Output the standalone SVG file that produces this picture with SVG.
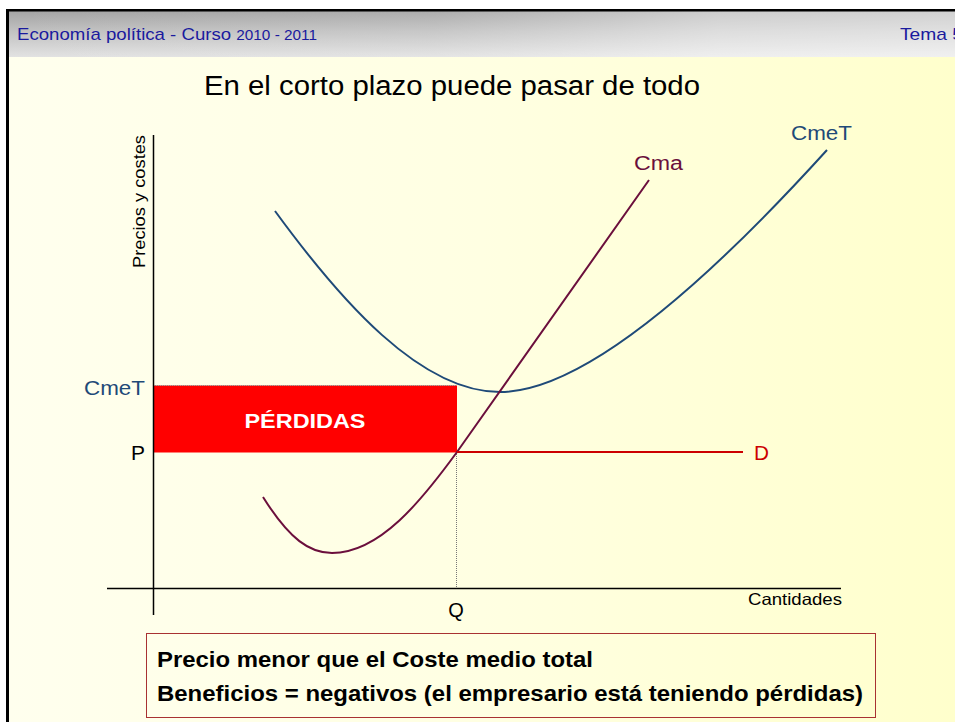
<svg xmlns="http://www.w3.org/2000/svg" width="955" height="722" viewBox="0 0 955 722">
<defs>
<linearGradient id="bg" x1="0" y1="0" x2="1" y2="0">
<stop offset="0" stop-color="#FFFFEE"/>
<stop offset="0.5" stop-color="#FFFFE2"/>
<stop offset="1" stop-color="#FFFFCC"/>
</linearGradient>
<linearGradient id="hdrV" x1="0" y1="0" x2="0" y2="1">
<stop offset="0" stop-color="#A4A4A4"/>
<stop offset="0.45" stop-color="#C2C2C2"/>
<stop offset="1" stop-color="#E2E2E2"/>
</linearGradient>
<linearGradient id="hdrH" x1="0" y1="0" x2="1" y2="0">
<stop offset="0" stop-color="#FFFFFF" stop-opacity="0"/>
<stop offset="0.45" stop-color="#FFFFFF" stop-opacity="0.1"/>
<stop offset="0.75" stop-color="#FFFFFF" stop-opacity="0.45"/>
<stop offset="1" stop-color="#FFFFFF" stop-opacity="0.5"/>
</linearGradient>
<style>
.t{font-family:"Liberation Sans",Arial,sans-serif}
.lbl{font-size:20px}
.blue{fill:#1F4A78}
.curve{fill:none;stroke-width:2}
.bold{font-weight:bold}
</style>
</defs>
<rect x="0" y="0" width="955" height="722" fill="#FFFFFF"/>
<rect x="9" y="11" width="946" height="711" fill="url(#bg)"/>
<g id="header">
<rect x="9" y="11" width="946" height="46" fill="url(#hdrV)"/>
<rect x="9" y="11" width="946" height="46" fill="url(#hdrH)"/>
<text class="t" x="17" y="40" fill="#1A1A9E" font-size="17" textLength="300" lengthAdjust="spacingAndGlyphs">Economía política - Curso <tspan font-size="14">2010 - 2011</tspan></text>
<text class="t" x="900" y="40" fill="#1A1A9E" font-size="17" textLength="63" lengthAdjust="spacingAndGlyphs">Tema 5</text>
</g>
<rect x="6" y="9" width="949" height="2.5" fill="#000"/>
<rect x="6" y="9" width="3" height="713" fill="#000"/>
<g id="title">
<text class="t" x="204" y="95" font-size="27" fill="#000" textLength="496" lengthAdjust="spacingAndGlyphs">En el corto plazo puede pasar de todo</text>
</g>
<g id="perdidas">
<rect x="153" y="385.5" width="304" height="67" fill="#FF0000"/>
<line x1="153" y1="385.5" x2="457" y2="385.5" stroke="#888" stroke-width="1" stroke-dasharray="1,1"/>
<text class="t bold" x="305" y="428" font-size="21" fill="#FFFFFF" text-anchor="middle" textLength="121" lengthAdjust="spacingAndGlyphs">PÉRDIDAS</text>
</g>
<g id="axes">
<line x1="153.5" y1="135" x2="153.5" y2="615" stroke="#000" stroke-width="1.5"/>
<line x1="107" y1="588.5" x2="841" y2="588.5" stroke="#000" stroke-width="1.5"/>
<text class="t" transform="translate(145,268) rotate(-90)" font-size="17" fill="#000" textLength="133" lengthAdjust="spacingAndGlyphs">Precios y costes</text>
<text class="t" x="748" y="605" font-size="16.5" fill="#000" textLength="94" lengthAdjust="spacingAndGlyphs">Cantidades</text>
</g>
<g id="connectors">
<line x1="456.5" y1="452" x2="456.5" y2="588" stroke="#777" stroke-width="1" stroke-dasharray="1,1"/>
<path id="cmet-curve" class="curve" stroke="#1F4A78" d="M275,211 C340,300 420,392 500,392 C580,392 700,290 827,150"/>
<path id="cma-curve" class="curve" stroke="#6B0F3C" d="M263,497 C290,540 310,553 332,553 C380,553 422,500 457,452 L649,180"/>
<line id="d-line" x1="457" y1="452" x2="743" y2="452" stroke="#CC0000" stroke-width="2"/>
</g>
<g id="labels">
<text class="t lbl blue" x="84" y="395" textLength="61" lengthAdjust="spacingAndGlyphs">CmeT</text>
<text class="t lbl" x="131" y="460" fill="#000" textLength="14" lengthAdjust="spacingAndGlyphs">P</text>
<text class="t lbl" x="456" y="617" fill="#000" text-anchor="middle">Q</text>
<text class="t lbl" x="754" y="460" fill="#CC0000" textLength="15" lengthAdjust="spacingAndGlyphs">D</text>
<text class="t lbl" x="634" y="170" fill="#6B0F3C" textLength="49" lengthAdjust="spacingAndGlyphs">Cma</text>
<text class="t lbl blue" x="791" y="140" textLength="61" lengthAdjust="spacingAndGlyphs">CmeT</text>
</g>
<g id="note">
<rect x="146.5" y="633.5" width="729" height="84" fill="none" stroke="#A83232" stroke-width="1"/>
<text class="t bold" x="157" y="667" font-size="22" fill="#000" textLength="436" lengthAdjust="spacingAndGlyphs">Precio menor que el Coste medio total</text>
<text class="t bold" x="157" y="701" font-size="22" fill="#000" textLength="706" lengthAdjust="spacingAndGlyphs">Beneficios = negativos (el empresario está teniendo pérdidas)</text>
</g>
</svg>
